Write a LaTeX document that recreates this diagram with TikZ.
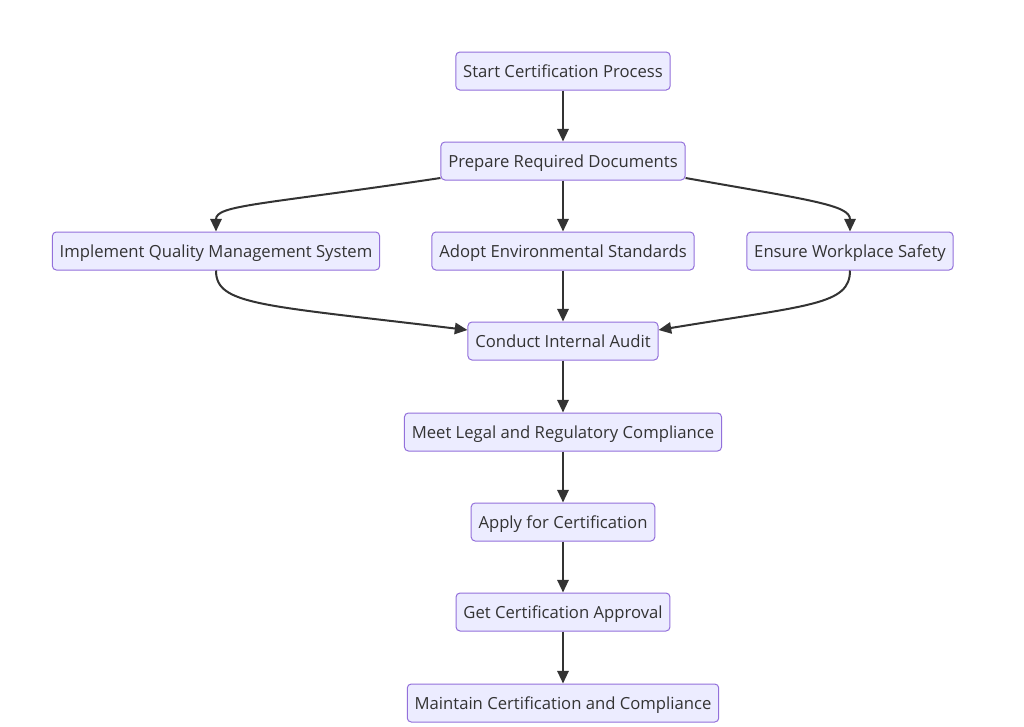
\documentclass[tikz,border=0pt]{standalone}
\usepackage{fontspec}
\setmainfont{Open Sans}
\usetikzlibrary{arrows.meta}

\definecolor{boxfill}{RGB}{236,236,255}
\definecolor{boxline}{RGB}{147,112,219}
\definecolor{inkgray}{RGB}{51,51,51}

\tikzset{every picture/.style={line width=0.75pt}}
\tikzset{
  stepnode/.style={draw=boxline, fill=boxfill, rounded corners=3pt, line width=0.75pt,
    minimum height=28.5pt, inner xsep=5.5pt, inner ysep=0pt, text=inkgray,
    text height=12pt, text depth=2.5pt,
    font=\fontsize{12.5}{14}\selectfont},
  flow/.style={draw=inkgray, line width=1.5pt, -{Triangle[length=9.5pt,width=8.5pt]}}
}

\begin{document}
\begin{tikzpicture}[x=0.75pt,y=0.75pt,yscale=-1,xscale=1]
\useasboundingbox (0,0) rectangle (1024,726);
\fill[white] (0,0) rectangle (1024,726);
% Text Node
\node [stepnode] (start) at (563,71) {Start Certification Process};
% Text Node
\node [stepnode] (prep) at (563,161) {Prepare Required Documents};
% Text Node
\node [stepnode] (qms) at (216,251) {Implement Quality Management System};
% Text Node
\node [stepnode] (env) at (563,251) {Adopt Environmental Standards};
% Text Node
\node [stepnode] (safety) at (850,251) {Ensure Workplace Safety};
% Text Node
\node [stepnode] (audit) at (563,341) {Conduct Internal Audit};
% Text Node
\node [stepnode] (legal) at (563,432) {Meet Legal and Regulatory Compliance};
% Text Node
\node [stepnode] (apply) at (563,522) {Apply for Certification};
% Text Node
\node [stepnode] (approval) at (563,612) {Get Certification Approval};
% Text Node
\node [stepnode] (maintain) at (563,703) {Maintain Certification and Compliance};

%Straight Lines
\draw [flow] (start) -- (prep);
\draw [flow] (prep) -- (env);
\draw [flow] (env) -- (audit);
\draw [flow] (audit) -- (legal);
\draw [flow] (legal) -- (apply);
\draw [flow] (apply) -- (approval);
\draw [flow] (approval) -- (maintain);
%Curve Lines
\draw [flow] (prep.west |- 0,178) .. controls (260,205) and (216,205) .. (qms.north);
\draw [flow] (prep.east |- 0,178) .. controls (810,200) and (850,205) .. (safety.north);
\draw [flow] (qms.south) .. controls (216,305) and (260,305) .. (audit.west |- 0,330);
\draw [flow] (safety.south) .. controls (850,305) and (810,305) .. (audit.east |- 0,330);
\end{tikzpicture}
\end{document}
